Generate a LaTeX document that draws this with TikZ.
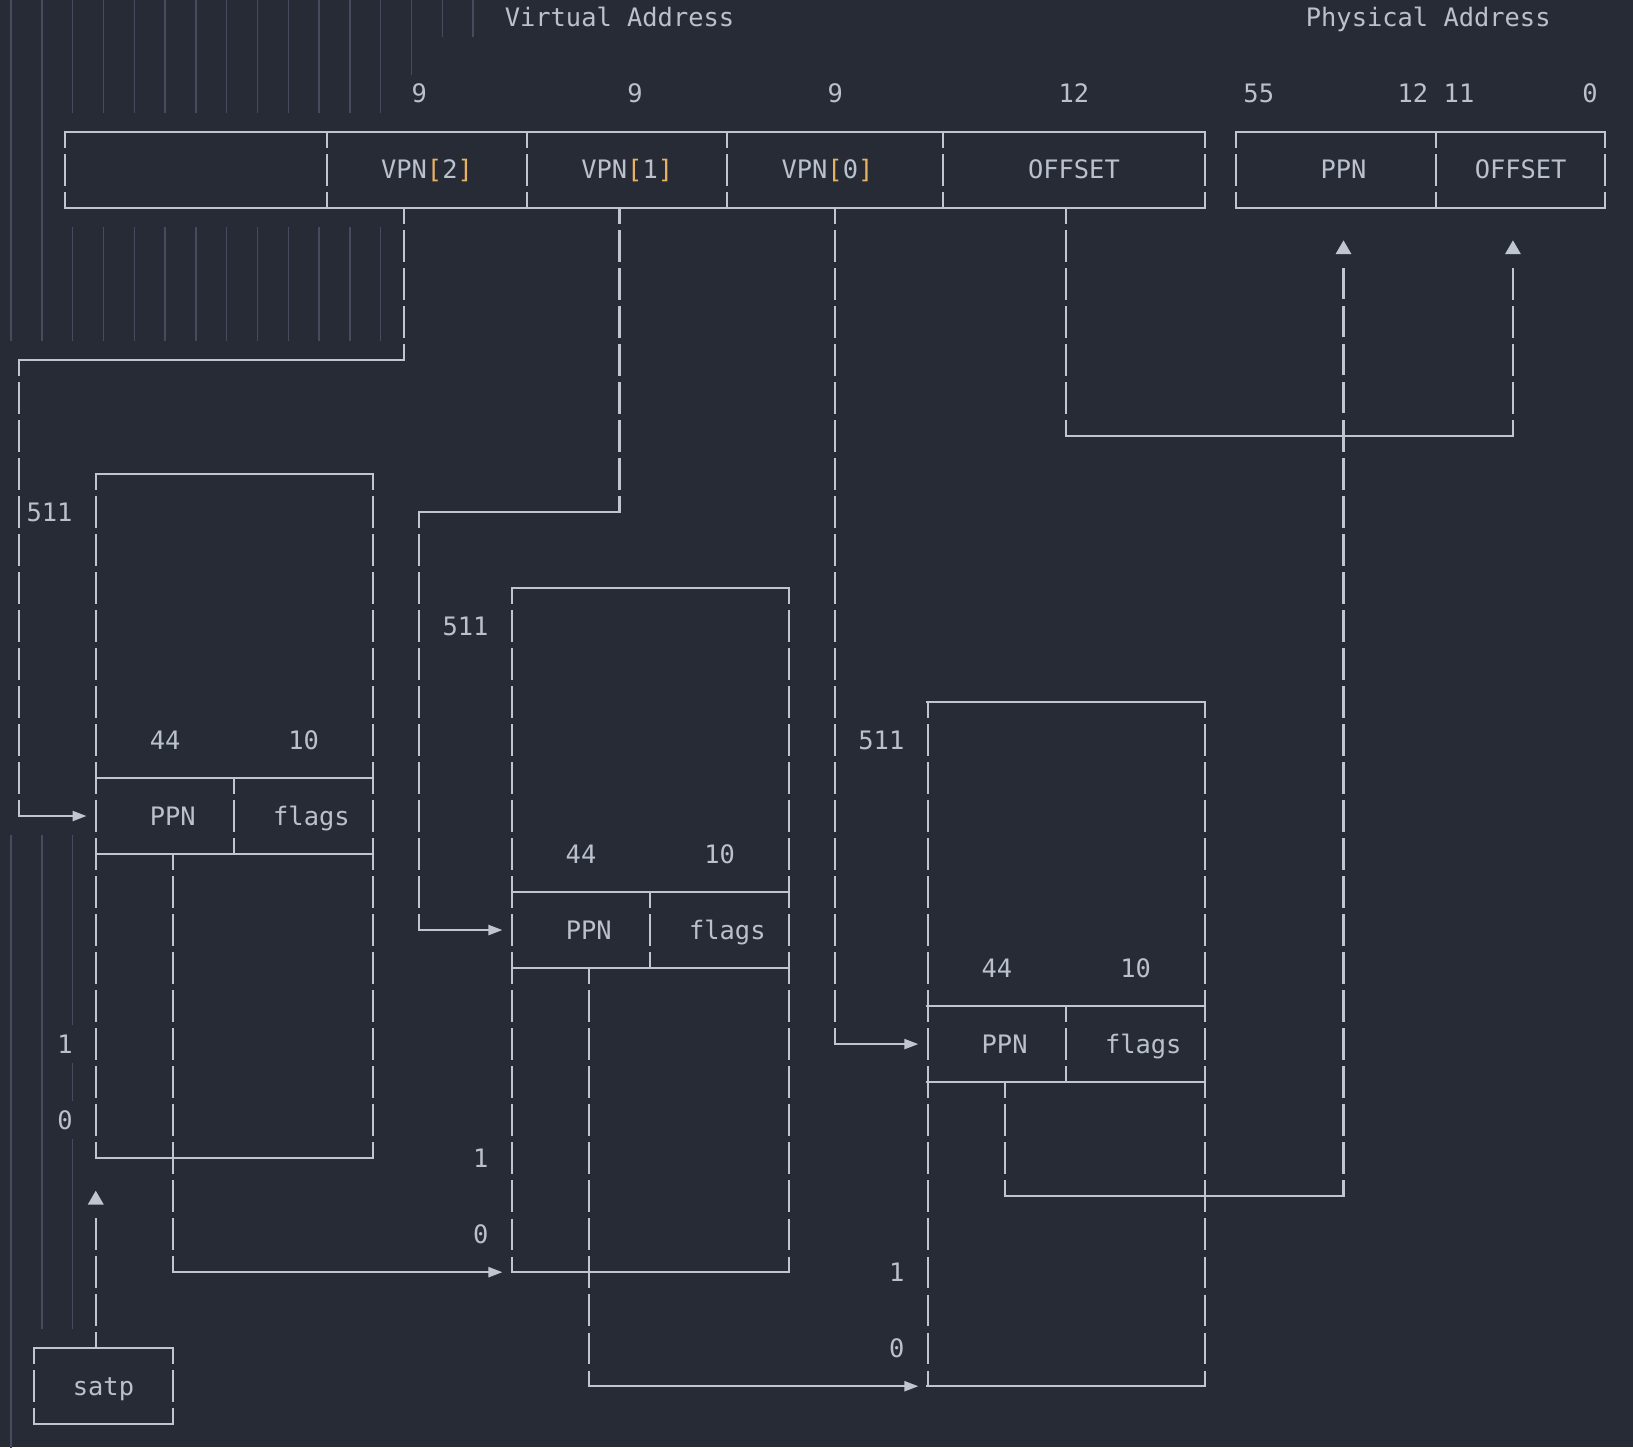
\documentclass[tikz,border=0pt]{standalone}
\usepackage{fontspec}
\newfontfamily\asciifont{DejaVu Sans Mono}
\usetikzlibrary{arrows.meta}
\definecolor{bgc}{HTML}{272B35}
\definecolor{lnc}{HTML}{C0C6D1}
\definecolor{txc}{HTML}{BAC1CC}
\definecolor{brc}{HTML}{E8B262}
\definecolor{gdc}{HTML}{464B60}
\tikzset{
  hl/.style={draw=lnc, line width=1.1pt, line cap=rect},
  vl/.style={draw=lnc, line width=1.05pt, dash pattern=on 15.76pt off 3.25pt, dash phase=7.88pt},
  guide/.style={draw=gdc, line width=0.7pt},
  lbl/.style={text=txc, font=\fontsize{12.7pt}{15pt}\selectfont\asciifont, inner sep=0pt, anchor=base, yshift=-4.6pt},
  rarrow/.style={hl, -{Triangle[length=7pt,width=5pt]}},
}
\newcommand\uptri[1]{\fill[lnc, shift={(#1)}] (-4pt,-4.2pt) -- (4pt,-4.2pt) -- (0pt,2.7pt) -- cycle;}
\newcommand\brk[1]{\textcolor{brc}{[}#1\textcolor{brc}{]}}
\begin{document}
\begin{tikzpicture}[x=7.702pt,y=-19.007pt]
\path[use as bounding box, fill=bgc] (-9.375pt,8.85pt) rectangle (807.125pt,-714.65pt);
% indent guides
\foreach \k in {0,1} \draw[guide] ({2*\k-0.5},-0.5) -- ({2*\k-0.5},8.5);
\foreach \k in {2,...,12} {
  \draw[guide] ({2*\k-0.5},-0.5) -- ({2*\k-0.5},2.5);
  \draw[guide] ({2*\k-0.5},5.5) -- ({2*\k-0.5},8.5);
}
\draw[guide] (25.5,-0.5) -- (25.5,1.5);
\foreach \x in {27.5,29.5} \draw[guide] (\x,-0.5) -- (\x,0.5);
\draw[guide] (-0.5,21.5) -- (-0.5,37.8);
\draw[guide] (1.5,21.5) -- (1.5,34.5);
\draw[guide] (3.5,21.5) -- (3.5,26.5) (3.5,27.5) -- (3.5,28.5) (3.5,29.5) -- (3.5,34.5);
% titles
\node[lbl] (vatitle) at (39,0) {Virtual Address};
\node[lbl] (patitle) at (91.5,0) {Physical Address};
% bit widths
\node[lbl] (w2) at (26,2) {9};
\node[lbl] (w1) at (40,2) {9};
\node[lbl] (w0) at (53,2) {9};
\node[lbl] (wo) at (68.5,2) {12};
\node[lbl] (b55) at (80.5,2) {55};
\node[lbl] (b12) at (90.5,2) {12};
\node[lbl] (b11) at (93.5,2) {11};
\node[lbl] (b0) at (102,2) {0};
% virtual address box
\draw[hl] (3,3) -- (77,3);
\draw[hl] (3,5) -- (77,5);
\foreach \c in {3,20,33,46,60,77} \draw[vl] (\c,3) -- (\c,5);
\node[lbl] (vpn2) at (26.5,4) {VPN\brk{2}};
\node[lbl] (vpn1) at (39.5,4) {VPN\brk{1}};
\node[lbl] (vpn0) at (52.5,4) {VPN\brk{0}};
\node[lbl] (voff) at (68.5,4) {OFFSET};
\coordinate (vpn2b) at (25,5);
\coordinate (vpn1b) at (39,5);
\coordinate (vpn0b) at (53,5);
\coordinate (voffb) at (68,5);
% physical address box
\draw[hl] (79,3) -- (103,3);
\draw[hl] (79,5) -- (103,5);
\foreach \c in {79,92,103} \draw[vl] (\c,3) -- (\c,5);
\node[lbl] (pppn) at (86,4) {PPN};
\node[lbl] (poff) at (97.5,4) {OFFSET};
\coordinate (pppnin) at (86,6.5);
\coordinate (poffin) at (97,6.5);
% page tables
\foreach \i in {0,1,2} {
  \pgfmathtruncatemacro\L{5+27*\i}
  \pgfmathtruncatemacro\T{12+3*\i}
  \pgfmathtruncatemacro\R{\L+18}
  \pgfmathtruncatemacro\B{\T+18}
  \pgfmathtruncatemacro\Ra{\T+8}
  \pgfmathtruncatemacro\Rb{\T+10}
  \pgfmathtruncatemacro\Rp{\T+9}
  \pgfmathtruncatemacro\Rh{\T+7}
  \pgfmathtruncatemacro\D{\L+9}
  \draw[hl] (\L,\T) -- (\R,\T);
  \draw[hl] (\L,\B) -- (\R,\B);
  \draw[hl] (\L,\Ra) -- (\R,\Ra);
  \draw[hl] (\L,\Rb) -- (\R,\Rb);
  \draw[vl] (\L,\T) -- (\L,\B);
  \draw[vl] (\R,\T) -- (\R,\B);
  \draw[vl] (\D,\Ra) -- (\D,\Rb);
  \node[lbl] (t\i n44) at ({\L+4.5},\Rh) {44};
  \node[lbl] (t\i n10) at ({\L+13.5},\Rh) {10};
  \node[lbl] (t\i ppn) at ({\L+5},\Rp) {PPN};
  \node[lbl] (t\i flags) at ({\L+14},\Rp) {flags};
  \node[lbl] (t\i top) at ({\L-3},{\T+1}) {511};
  \node[lbl] (t\i one) at ({\L-2},{\T+15}) {1};
  \node[lbl] (t\i zero) at ({\L-2},{\T+17}) {0};
  \coordinate (t\i in) at ({\L-0.6},\Rp);
  \coordinate (t\i base) at ({\L-0.6},\B);
  \coordinate (t\i out) at ({\L+5},\Rb);
}
% satp
\draw[hl] (1,35) -- (10,35);
\draw[hl] (1,37) -- (10,37);
\draw[vl] (1,35) -- (1,37);
\draw[vl] (10,35) -- (10,37);
\node[lbl] (satp) at (5.5,36) {satp};
\coordinate (satpt) at (5,35);
\coordinate (satpend) at (5,31.5);
% connectors
\draw[vl] (vpn2b) -- (25,9) coordinate (c1a);
\draw[hl] (c1a) -- (0,9) coordinate (c1b);
\draw[vl] (c1b) -- (0,21) coordinate (c1c);
\draw[rarrow] (c1c) -- (t0in);
\draw[vl] (vpn1b) -- (39,13) coordinate (c2a);
\draw[hl] (c2a) -- (26,13) coordinate (c2b);
\draw[vl] (c2b) -- (26,24) coordinate (c2c);
\draw[rarrow] (c2c) -- (t1in);
\draw[vl] (vpn0b) -- (53,27) coordinate (c3a);
\draw[rarrow] (c3a) -- (t2in);
\draw[vl] (voffb) -- (68,11) coordinate (c4a);
\draw[hl] (c4a) -- (97,11) coordinate (c4b);
\draw[vl] (c4b) -- (poffin);
\uptri{97,6}
\draw[vl] (t0out) -- (10,33) coordinate (c5a);
\draw[rarrow] (c5a) -- (t1base);
\draw[vl] (t1out) -- (37,36) coordinate (c6a);
\draw[rarrow] (c6a) -- (t2base);
\draw[vl] (t2out) -- (64,31) coordinate (c7a);
\draw[hl] (c7a) -- (86,31) coordinate (c7b);
\draw[vl] (c7b) -- (pppnin);
\uptri{86,6}
\draw[vl] (satpt) -- (satpend);
\uptri{5,31}
\end{tikzpicture}
\end{document}
